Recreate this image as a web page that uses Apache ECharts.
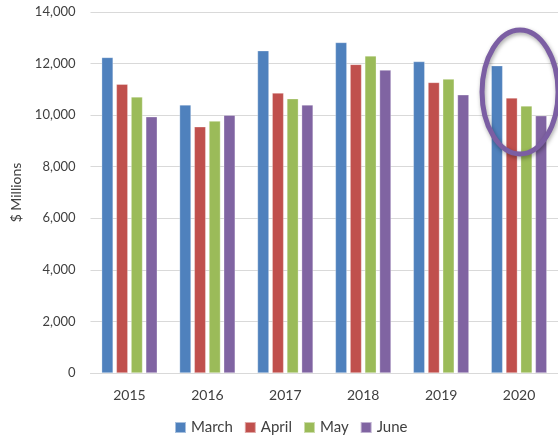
<!DOCTYPE html>
<html lang="en">
<head>
    <meta charset="UTF-8">
    <title>Monthly values 2015-2020</title>
    <script src="https://cdn.jsdelivr.net/npm/echarts@6.0.0/dist/echarts.min.js"></script>
    <style>
        html, body { margin: 0; padding: 0; background: #fff; }
    </style>
</head>
<body>
<div id="chart1" style="width: 558px;height:440px;"></div>

<script>
    // values, $ millions
    var years = ['2015', '2016', '2017', '2018', '2019', '2020'];
    var march = [12240, 10400, 12500, 12820, 12080, 11920];
    var april = [11200, 9550, 10860, 11970, 11270, 10670];
    var may = [10710, 9770, 10640, 12300, 11400, 10360];
    var june = [9940, 10000, 10400, 11750, 10790, 9980];

    var font = 'Lato, "Open Sans", sans-serif';
    var textColor = '#404040';

    function bar(name, data, color) {
        return {
            name: name,
            type: 'bar',
            data: data,
            barWidth: 11.5,
            barGap: '28%',
            itemStyle: { color: color, borderColor: 'rgba(255,255,255,0.5)', borderWidth: 0.6 }
        };
    }

    var myChart = echarts.init(document.getElementById('chart1'));
    var option = {
        animation: false,
        textStyle: { fontFamily: font },
        grid: { left: 90.5, right: -6.5, top: 12, bottom: 67 },
        legend: {
            bottom: 0,
            left: 169,
            itemWidth: 11,
            itemHeight: 11,
            itemGap: 11,
            icon: 'rect',
            textStyle: { fontSize: 15, color: textColor, fontFamily: font },
            data: ['March', 'April', 'May', 'June']
        },
        xAxis: {
            type: 'category',
            data: years,
            axisLine: { lineStyle: { color: '#D9D9D9', width: 1 } },
            axisTick: { show: false },
            axisLabel: { fontSize: 14, color: textColor, margin: 15 }
        },
        yAxis: {
            type: 'value',
            min: 0,
            max: 14000,
            interval: 2000,
            name: '$ Millions',
            nameLocation: 'middle',
            nameGap: 63,
            nameTextStyle: { fontSize: 14, color: textColor },
            axisLine: { show: false },
            axisTick: { show: false },
            splitLine: { lineStyle: { color: '#D9D9D9', width: 1 } },
            axisLabel: {
                fontSize: 13,
                color: textColor,
                margin: 15,
                formatter: function (v) { return v.toLocaleString('en-US'); }
            }
        },
        series: [
            bar('March', march, '#4F81BD'),
            bar('April', april, '#C0504D'),
            bar('May', may, '#9BBB59'),
            bar('June', june, '#8064A2')
        ]
    };
    myChart.setOption(option);

    // purple ring drawn around the 2020 group
    var c = myChart.convertToPixel({ gridIndex: 0 }, ['2020', 10900]);
    myChart.setOption({
        graphic: [{
            type: 'ellipse',
            shape: { cx: c[0] + 1, cy: c[1], rx: 38, ry: 62 },
            style: {
                fill: 'none',
                stroke: '#7B5EA3',
                lineWidth: 5,
                shadowBlur: 4,
                shadowOffsetX: 1,
                shadowOffsetY: 2,
                shadowColor: 'rgba(0,0,0,0.35)'
            },
            z: 100
        }]
    });
</script>
</body>
</html>
